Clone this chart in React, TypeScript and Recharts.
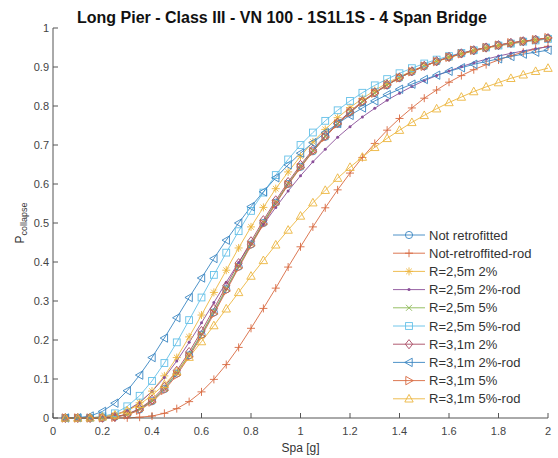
import { LineChart, Line, XAxis, YAxis, Legend } from "recharts";

const spa = [
  0.05, 0.1, 0.15, 0.2, 0.25, 0.3, 0.35, 0.4, 0.45, 0.5, 0.55, 0.6, 0.65, 0.7, 0.75, 0.8, 0.85, 0.9, 0.95, 1.0,
  1.05, 1.1, 1.15, 1.2, 1.25, 1.3, 1.35, 1.4, 1.45, 1.5, 1.55, 1.6, 1.65, 1.7, 1.75, 1.8, 1.85, 1.9, 1.95, 2.0,
];

const notRetrofitted = [0, 0, 0, 0.0005, 0.003, 0.009, 0.022, 0.043, 0.074, 0.114, 0.161, 0.214, 0.271, 0.33, 0.388, 0.445, 0.5, 0.552, 0.6, 0.644, 0.684, 0.721, 0.754, 0.783, 0.81, 0.833, 0.853, 0.872, 0.888, 0.902, 0.914, 0.925, 0.934, 0.942, 0.95, 0.956, 0.961, 0.966, 0.97, 0.974];
const notRetrofittedRod = [0, 0, 0, 0, 0.0001, 0.0004, 0.002, 0.005, 0.012, 0.024, 0.042, 0.067, 0.099, 0.137, 0.181, 0.23, 0.281, 0.333, 0.387, 0.439, 0.49, 0.539, 0.585, 0.628, 0.668, 0.704, 0.738, 0.768, 0.795, 0.82, 0.841, 0.861, 0.878, 0.893, 0.906, 0.918, 0.929, 0.938, 0.946, 0.953];
const r25m2 = [0, 0, 0.0002, 0.002, 0.007, 0.018, 0.039, 0.069, 0.108, 0.155, 0.208, 0.264, 0.322, 0.379, 0.436, 0.49, 0.54, 0.588, 0.631, 0.671, 0.708, 0.74, 0.77, 0.796, 0.819, 0.84, 0.859, 0.875, 0.89, 0.903, 0.914, 0.924, 0.933, 0.941, 0.948, 0.954, 0.959, 0.964, 0.968, 0.972];
const r25m2Rod = [0, 0, 0.0003, 0.002, 0.008, 0.02, 0.04, 0.068, 0.104, 0.146, 0.194, 0.244, 0.296, 0.348, 0.399, 0.448, 0.496, 0.54, 0.582, 0.621, 0.657, 0.689, 0.72, 0.747, 0.772, 0.794, 0.815, 0.833, 0.85, 0.865, 0.878, 0.89, 0.901, 0.911, 0.92, 0.928, 0.935, 0.941, 0.947, 0.952];
const r25m5 = [0, 0, 0, 0.0005, 0.003, 0.009, 0.023, 0.044, 0.076, 0.116, 0.163, 0.216, 0.273, 0.332, 0.39, 0.447, 0.502, 0.553, 0.601, 0.645, 0.685, 0.722, 0.755, 0.784, 0.81, 0.833, 0.854, 0.872, 0.888, 0.902, 0.914, 0.925, 0.934, 0.942, 0.95, 0.956, 0.961, 0.966, 0.97, 0.974];
const r25m5Rod = [0, 0, 0.0005, 0.004, 0.012, 0.03, 0.057, 0.095, 0.141, 0.194, 0.251, 0.309, 0.367, 0.424, 0.479, 0.531, 0.578, 0.623, 0.663, 0.7, 0.732, 0.762, 0.789, 0.813, 0.834, 0.853, 0.869, 0.884, 0.897, 0.909, 0.919, 0.928, 0.936, 0.943, 0.95, 0.955, 0.96, 0.965, 0.968, 0.972];
const r31m2 = [0, 0, 0, 0.0006, 0.003, 0.01, 0.024, 0.047, 0.08, 0.121, 0.169, 0.223, 0.28, 0.339, 0.397, 0.453, 0.507, 0.558, 0.605, 0.649, 0.688, 0.724, 0.757, 0.786, 0.812, 0.835, 0.855, 0.873, 0.889, 0.903, 0.915, 0.926, 0.935, 0.943, 0.95, 0.956, 0.962, 0.966, 0.97, 0.974];
const r31m2Rod = [0, 0.0006, 0.005, 0.017, 0.038, 0.07, 0.11, 0.155, 0.205, 0.257, 0.309, 0.359, 0.409, 0.456, 0.5, 0.542, 0.58, 0.616, 0.649, 0.679, 0.706, 0.732, 0.755, 0.776, 0.795, 0.813, 0.829, 0.843, 0.856, 0.868, 0.879, 0.889, 0.898, 0.907, 0.914, 0.921, 0.927, 0.933, 0.938, 0.943];
const r31m5 = [0, 0, 0, 0.0004, 0.002, 0.008, 0.02, 0.041, 0.071, 0.11, 0.157, 0.21, 0.267, 0.326, 0.385, 0.442, 0.497, 0.549, 0.598, 0.642, 0.683, 0.72, 0.754, 0.783, 0.81, 0.833, 0.854, 0.872, 0.888, 0.902, 0.914, 0.925, 0.934, 0.943, 0.95, 0.956, 0.962, 0.966, 0.97, 0.975];
const r31m5Rod = [0, 0, 0.0005, 0.003, 0.008, 0.019, 0.035, 0.058, 0.086, 0.119, 0.156, 0.196, 0.237, 0.28, 0.322, 0.364, 0.404, 0.444, 0.482, 0.518, 0.552, 0.584, 0.615, 0.643, 0.669, 0.694, 0.717, 0.738, 0.758, 0.776, 0.793, 0.809, 0.823, 0.837, 0.849, 0.86, 0.871, 0.88, 0.889, 0.897];

const xTicks = [0, 0.2, 0.4, 0.6, 0.8, 1, 1.2, 1.4, 1.6, 1.8, 2];
const yTicks = [0, 0.1, 0.2, 0.3, 0.4, 0.5, 0.6, 0.7, 0.8, 0.9, 1];

type Shape = "o" | "+" | "*" | "." | "x" | "s" | "d" | "<" | ">" | "^";

const series: { key: string; name: string; values: number[]; color: string; shape: Shape }[] = [
  { key: "nr", name: "Not retrofitted", values: notRetrofitted, color: "#3a86c2", shape: "o" },
  { key: "nrr", name: "Not-retroffited-rod", values: notRetrofittedRod, color: "#d8693f", shape: "+" },
  { key: "a2", name: "R=2,5m 2%", values: r25m2, color: "#ecb63e", shape: "*" },
  { key: "a2r", name: "R=2,5m 2%-rod", values: r25m2Rod, color: "#8a4f99", shape: "." },
  { key: "a5", name: "R=2,5m 5%", values: r25m5, color: "#8bb854", shape: "x" },
  { key: "a5r", name: "R=2,5m 5%-rod", values: r25m5Rod, color: "#63c0e8", shape: "s" },
  { key: "b2", name: "R=3,1m 2%", values: r31m2, color: "#a84a62", shape: "d" },
  { key: "b2r", name: "R=3,1m 2%-rod", values: r31m2Rod, color: "#3a86c2", shape: "<" },
  { key: "b5", name: "R=3,1m 5%", values: r31m5, color: "#d8693f", shape: ">" },
  { key: "b5r", name: "R=3,1m 5%-rod", values: r31m5Rod, color: "#ecb63e", shape: "^" },
];

const data = spa.map((x, i) => {
  const row: Record<string, number> = { x };
  series.forEach((s) => (row[s.key] = s.values[i]));
  return row;
});

const Marker = ({ cx, cy, shape, color }: { cx: number; cy: number; shape: Shape; color: string }) => {
  const p = { fill: "none", stroke: color, strokeWidth: 0.9 };
  switch (shape) {
    case "o":
      return <circle cx={cx} cy={cy} r={3.6} {...p} />;
    case "+":
      return <path d={`M${cx - 4} ${cy}H${cx + 4}M${cx} ${cy - 4}V${cy + 4}`} {...p} />;
    case "*":
      return (
        <path
          d={`M${cx - 4} ${cy}H${cx + 4}M${cx} ${cy - 4}V${cy + 4}M${cx - 2.8} ${cy - 2.8}L${cx + 2.8} ${cy + 2.8}M${cx - 2.8} ${cy + 2.8}L${cx + 2.8} ${cy - 2.8}`}
          {...p}
        />
      );
    case ".":
      return <circle cx={cx} cy={cy} r={1.5} fill={color} />;
    case "x":
      return <path d={`M${cx - 3} ${cy - 3}L${cx + 3} ${cy + 3}M${cx - 3} ${cy + 3}L${cx + 3} ${cy - 3}`} {...p} />;
    case "s":
      return <rect x={cx - 3.4} y={cy - 3.4} width={6.8} height={6.8} {...p} />;
    case "d":
      return <polygon points={`${cx},${cy - 4.6} ${cx + 3.6},${cy} ${cx},${cy + 4.6} ${cx - 3.6},${cy}`} {...p} />;
    case "<":
      return <polygon points={`${cx - 4.2},${cy} ${cx + 3.2},${cy - 4.2} ${cx + 3.2},${cy + 4.2}`} {...p} />;
    case ">":
      return <polygon points={`${cx + 4.2},${cy} ${cx - 3.2},${cy - 4.2} ${cx - 3.2},${cy + 4.2}`} {...p} />;
    case "^":
      return <polygon points={`${cx},${cy - 4.4} ${cx + 4.2},${cy + 3.2} ${cx - 4.2},${cy + 3.2}`} {...p} />;
  }
  return null;
};

const LegendBox = () => (
  <svg width={168} height={186} style={{ display: "block" }}>
    {series.map((s, i) => {
      const y = 9 + i * 18.2;
      return (
        <g key={s.key}>
          <line x1={3} x2={35} y1={y} y2={y} stroke={s.color} strokeWidth={0.9} />
          <Marker cx={19} cy={y} shape={s.shape} color={s.color} />
          <text x={39} y={y + 4.6} fontSize={13} fill="#333">
            {s.name}
          </text>
        </g>
      );
    })}
  </svg>
);

const tickStyle = { fontSize: 11, fill: "#444" };
const font = "'Liberation Sans', Arial, sans-serif";

export default function App() {
  return (
    <div style={{ position: "absolute", left: 0, top: 0, width: 558, height: 458, background: "#fff", fontFamily: font }}>
      <LineChart width={558} height={458} data={data} margin={{ top: 28, right: 10, left: 0, bottom: 0 }}>
        <XAxis
          dataKey="x"
          type="number"
          domain={[0, 2]}
          ticks={xTicks}
          tickSize={-5}
          tickMargin={14}
          height={40}
          stroke="#555"
          tick={tickStyle}
          label={{ value: "Spa [g]", position: "insideBottom", offset: 6, fontSize: 12, fill: "#333" }}
        />
        <YAxis
          type="number"
          domain={[0, 1]}
          ticks={yTicks}
          tickSize={-5}
          tickMargin={9}
          width={53}
          stroke="#555"
          tick={tickStyle}
          label={{
            content: () => (
              <text transform="translate(24 223) rotate(-90)" textAnchor="middle" fill="#333" fontSize={12}>
                P<tspan fontSize={9} dy={3}>collapse</tspan>
              </text>
            ),
          }}
        />
        {series.map((s) => (
          <Line
            key={s.key}
            dataKey={s.key}
            name={s.name}
            stroke={s.color}
            strokeWidth={0.9}
            isAnimationActive={false}
            dot={(props: any) => (
              <Marker key={`${s.key}-${props.index}`} cx={props.cx} cy={props.cy} shape={s.shape} color={s.color} />
            )}
            activeDot={false}
          />
        ))}
        <Legend
          layout="vertical"
          align="center"
          verticalAlign="middle"
          content={() => <LegendBox />}
          wrapperStyle={{ left: 390, top: 226, width: 168, height: 186 }}
        />
      </LineChart>
      <svg width={558} height={30} style={{ position: "absolute", left: 0, top: 0, pointerEvents: "none" }}>
        <text x={282} y={23} textAnchor="middle" fontSize={16} fontWeight="bold" fill="#111">
          Long Pier - Class III - VN 100 - 1S1L1S - 4 Span Bridge
        </text>
      </svg>
    </div>
  );
}
